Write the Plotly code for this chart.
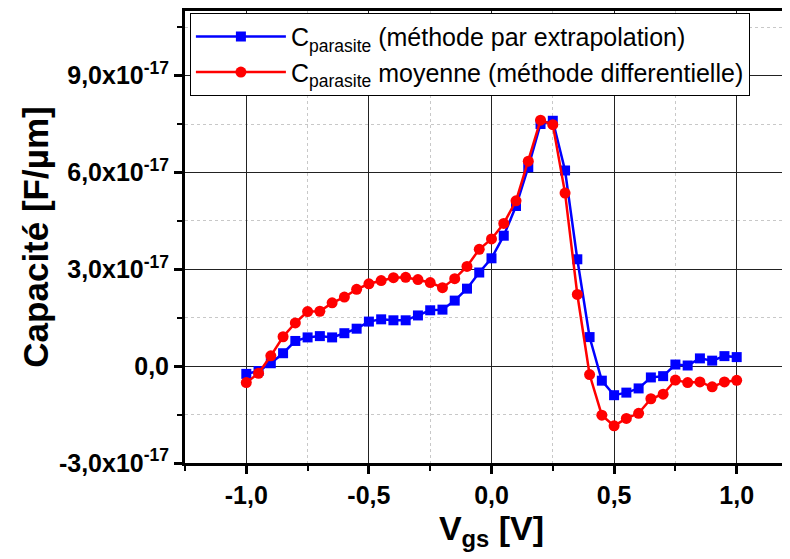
import plotly.graph_objects as go
import numpy as np

# Vgs [V]
vgs = [-1.00, -0.95, -0.90, -0.85, -0.80, -0.75, -0.70, -0.65, -0.60, -0.55,
       -0.50, -0.45, -0.40, -0.35, -0.30, -0.25, -0.20, -0.15, -0.10, -0.05,
       0.00, 0.05, 0.10, 0.15, 0.20, 0.25, 0.30, 0.35, 0.40, 0.45,
       0.50, 0.55, 0.60, 0.65, 0.70, 0.75, 0.80, 0.85, 0.90, 0.95, 1.00]

# capacitance, in units of 1e-17 F/um
c_extrapolation = [-0.24, -0.15, 0.09, 0.40, 0.78, 0.89, 0.93, 0.89, 1.02, 1.16,
                   1.38, 1.45, 1.42, 1.42, 1.57, 1.73, 1.75, 2.03, 2.40, 2.90,
                   3.34, 4.04, 4.96, 6.16, 7.50, 7.60, 6.06, 3.31, 0.90, -0.45,
                   -0.90, -0.82, -0.69, -0.35, -0.31, 0.05, 0.02, 0.24, 0.17, 0.31, 0.28]

c_differentielle = [-0.51, -0.22, 0.32, 0.91, 1.34, 1.69, 1.70, 1.96, 2.14, 2.38,
                    2.55, 2.65, 2.74, 2.75, 2.68, 2.59, 2.43, 2.71, 3.09, 3.62,
                    3.94, 4.42, 5.12, 6.35, 7.62, 7.48, 5.36, 2.22, -0.26, -1.52,
                    -1.85, -1.62, -1.46, -1.01, -0.87, -0.43, -0.51, -0.49, -0.64, -0.49, -0.44]

x_ticks = [-1.0, -0.5, 0.0, 0.5, 1.0]
x_labels = ["-1,0", "-0,5", "0,0", "0,5", "1,0"]
y_ticks = [-3e-17, 0.0, 3e-17, 6e-17, 9e-17]
y_labels = ["-3,0x10<sup>-17</sup>", "0,0", "3,0x10<sup>-17</sup>",
            "6,0x10<sup>-17</sup>", "9,0x10<sup>-17</sup>"]

scale = 1e-17
FONT = "Arial, Liberation Sans, sans-serif"

fig = go.Figure()

fig.add_trace(go.Scatter(
    x=vgs, y=np.array(c_extrapolation) * scale,
    mode="lines+markers",
    name="C<sub>parasite</sub> (méthode par extrapolation)",
    line=dict(color="#0000ff", width=2.5),
    marker=dict(symbol="square", size=10, color="#0000ff")
))

fig.add_trace(go.Scatter(
    x=vgs, y=np.array(c_differentielle) * scale,
    mode="lines+markers",
    name="C<sub>parasite</sub> moyenne (méthode differentielle)",
    line=dict(color="#ff0000", width=2.5),
    marker=dict(symbol="circle", size=11, color="#ff0000")
))

# the page body adds an 8px offset, margins compensate for it
fig.update_layout(
    width=790, height=559,
    margin=dict(l=177, r=0, t=1, b=104),
    paper_bgcolor="white",
    plot_bgcolor="white",
    font=dict(family=FONT, color="black"),
    legend=dict(
        x=0.008, y=0.996, xanchor="left", yanchor="top",
        bgcolor="white", bordercolor="black", borderwidth=1,
        font=dict(size=25, family=FONT),
        itemwidth=90,
        tracegroupgap=0,
    ),
    showlegend=True,
)

fig.update_xaxes(
    range=[-1.25, 1.25],
    tickvals=x_ticks, ticktext=x_labels,
    tickfont=dict(size=25, weight="bold"),
    ticks="outside", ticklen=8, tickwidth=2.5, tickcolor="black",
    showline=True, linewidth=3, linecolor="black", mirror=True,
    showgrid=True, gridcolor="#222222", gridwidth=1,
    zeroline=False,
    minor=dict(tick0=-1, dtick=0.25, ticks="outside", ticklen=5, tickwidth=2,
               tickcolor="black", showgrid=True, gridcolor="#c8c8c8",
               griddash="dot", gridwidth=1),
    title=dict(text="V<sub>gs</sub> [V]", font=dict(size=34, weight="bold"), standoff=4),
)

fig.update_yaxes(
    range=[-3e-17, 11e-17],
    tickvals=y_ticks, ticktext=y_labels,
    tickfont=dict(size=25, weight="bold"),
    ticks="outside", ticklen=8, tickwidth=2.5, tickcolor="black",
    showline=True, linewidth=3, linecolor="black", mirror=False,
    showgrid=True, gridcolor="#222222", gridwidth=1,
    zeroline=False,
    minor=dict(tick0=-3e-17, dtick=1.5e-17, ticks="outside", ticklen=5, tickwidth=2,
               tickcolor="black", showgrid=True, gridcolor="#c8c8c8",
               griddash="dot", gridwidth=1),
    title=dict(text="Capacité [F/µm]", font=dict(size=35, weight="bold"), standoff=0),
)

fig.write_html("out.html")
